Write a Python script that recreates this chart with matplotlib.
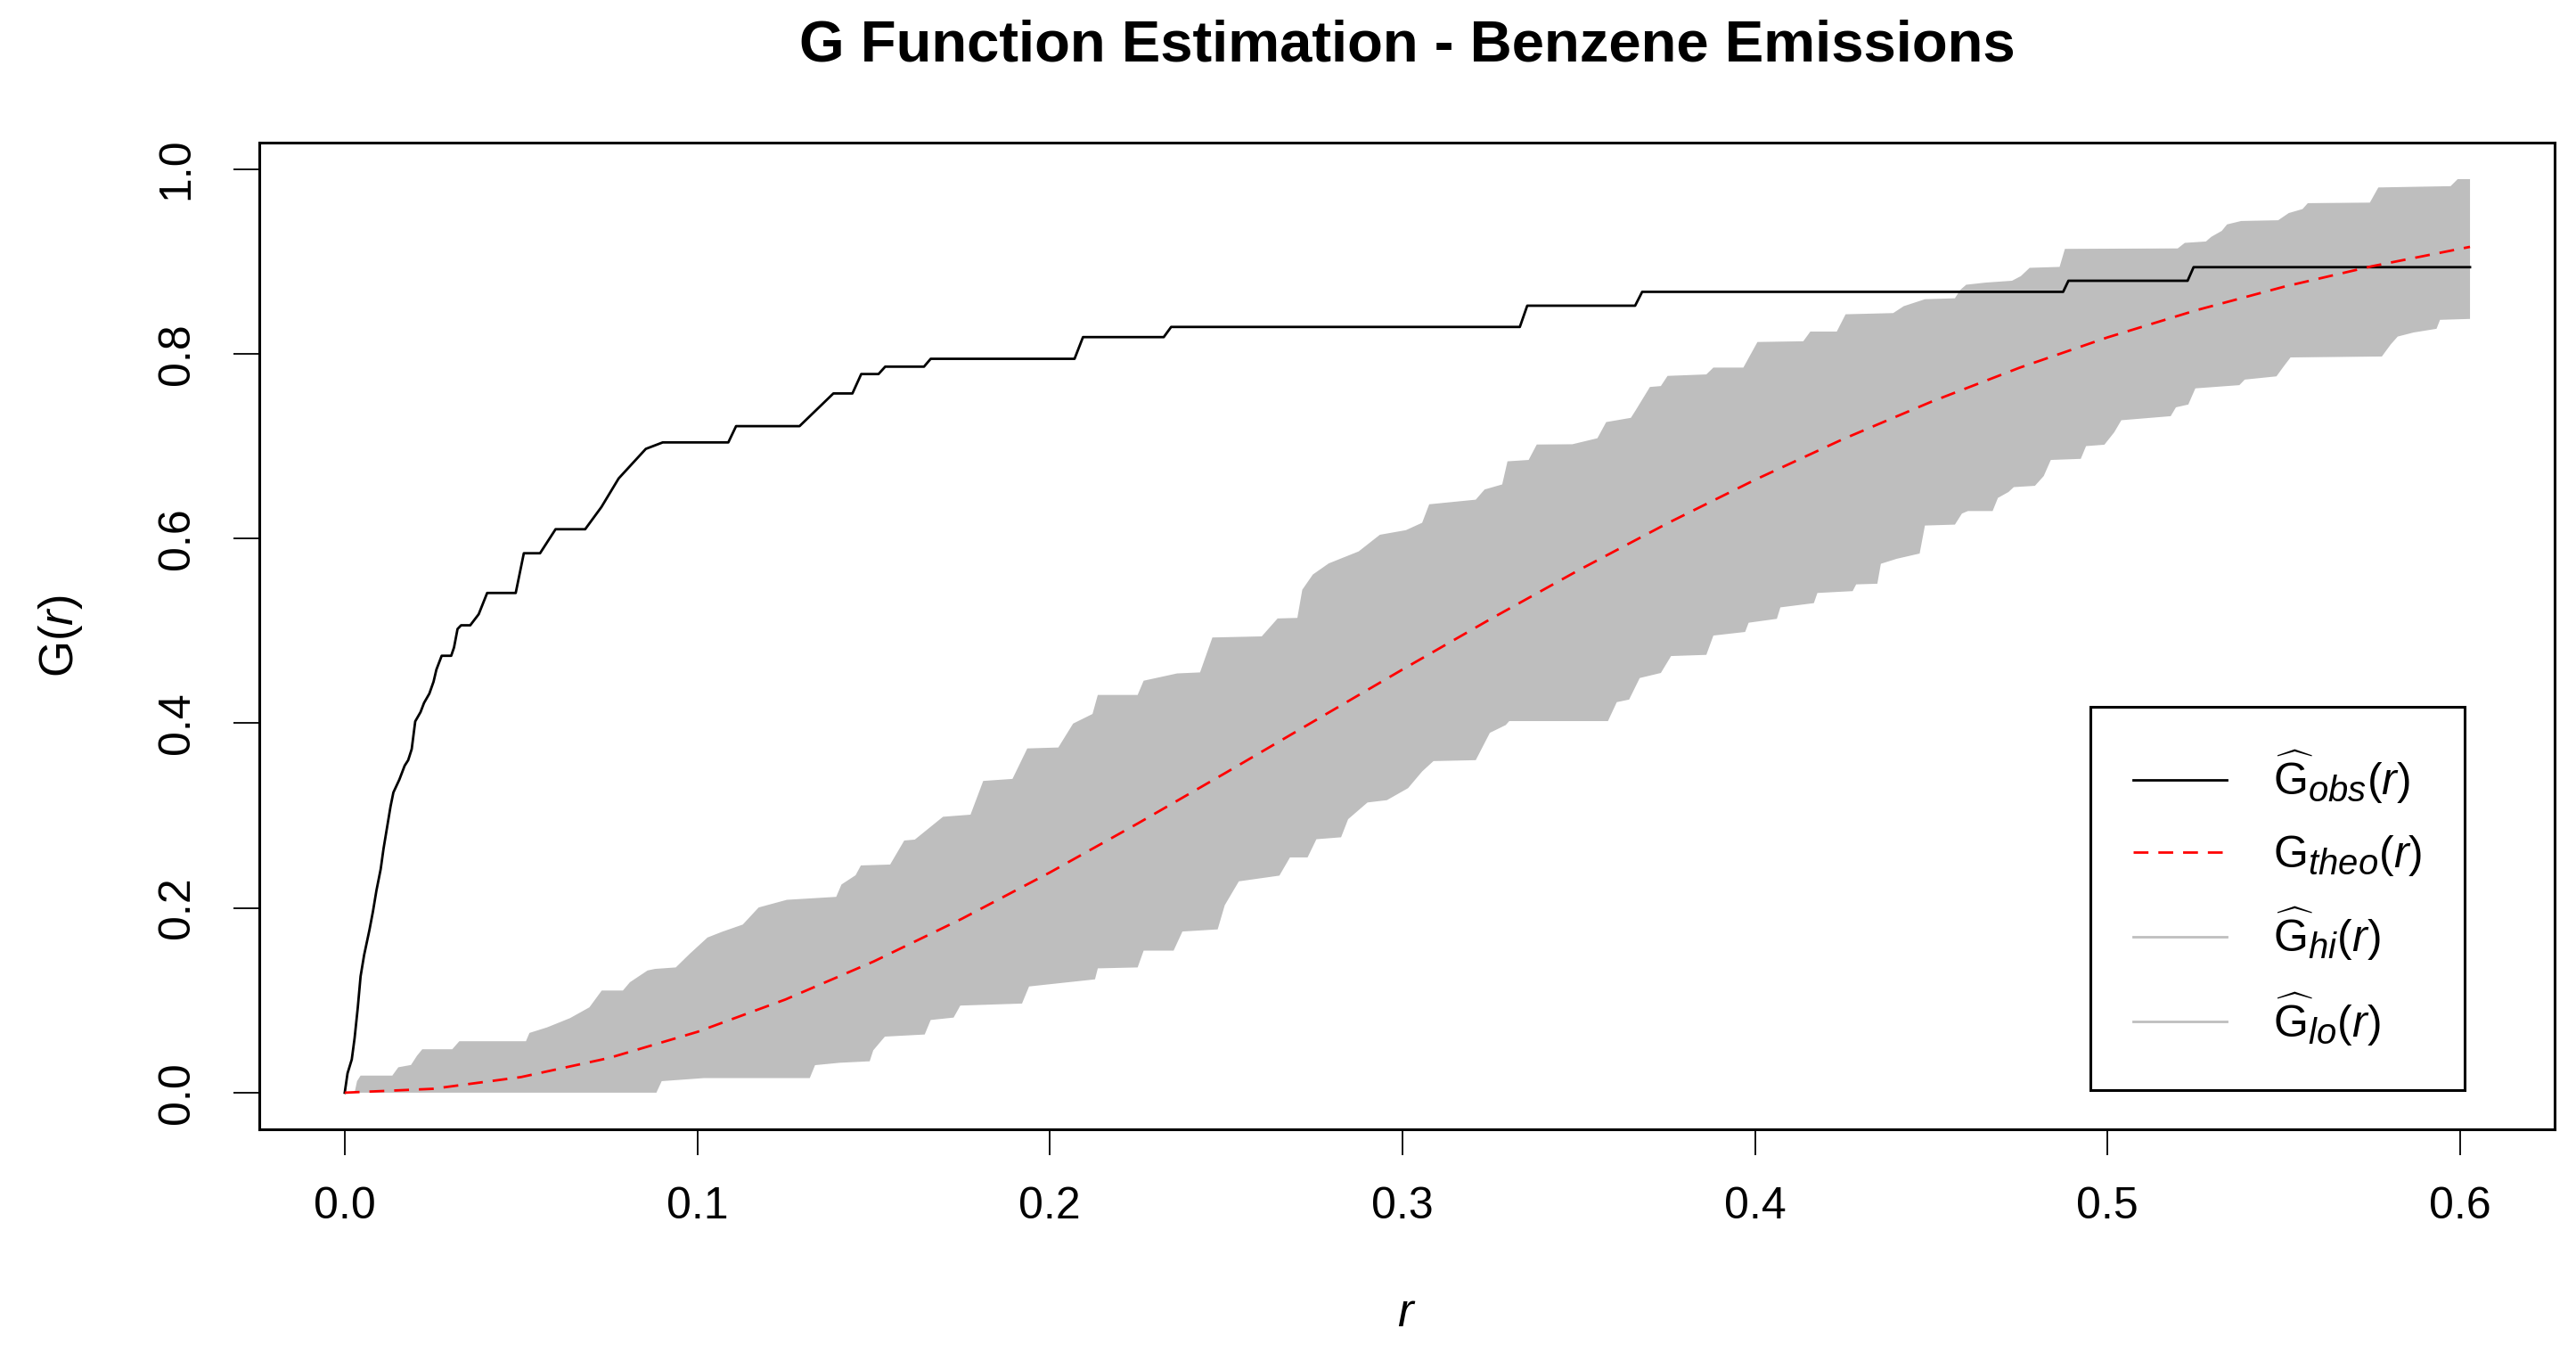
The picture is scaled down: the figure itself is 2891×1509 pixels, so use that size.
import matplotlib
matplotlib.use("Agg")
import matplotlib.pyplot as plt
import matplotlib._mathtext as mathtext_internals
from matplotlib.lines import Line2D

plt.rcParams['font.family'] = ['Liberation Sans', 'DejaVu Sans']
plt.rcParams['mathtext.fontset'] = 'custom'
plt.rcParams['mathtext.rm'] = 'Liberation Sans'
plt.rcParams['mathtext.it'] = 'Liberation Sans:italic'
# R plotmath subscripts are larger than matplotlib's default
mathtext_internals.SHRINK_FACTOR = 0.8

r_obs = [0, 0.0008, 0.002, 0.0028, 0.0037, 0.0045, 0.0055, 0.007, 0.008, 0.009,
         0.0102, 0.011, 0.012, 0.013, 0.0138, 0.0155, 0.017, 0.018, 0.019, 0.020,
         0.0215, 0.0225, 0.024, 0.0252, 0.026, 0.027, 0.0275, 0.0302, 0.031, 0.032,
         0.033, 0.0356, 0.038, 0.0404, 0.0485, 0.0508, 0.0554, 0.0598, 0.0682, 0.0728,
         0.0777, 0.0854, 0.0902, 0.1088, 0.111, 0.129, 0.1386, 0.144, 0.1465, 0.1514,
         0.1533, 0.1643, 0.1662, 0.207, 0.2094, 0.2323, 0.2344, 0.3333, 0.3354, 0.366,
         0.368, 0.4874, 0.4889, 0.5227, 0.5244, 0.6028]
g_obs = [0, 0.021, 0.036, 0.059, 0.092, 0.126, 0.149, 0.176, 0.196, 0.219,
         0.242, 0.264, 0.287, 0.310, 0.325, 0.339, 0.354, 0.360, 0.372, 0.402,
         0.412, 0.422, 0.432, 0.445, 0.458, 0.468, 0.473, 0.473, 0.482, 0.502,
         0.506, 0.506, 0.518, 0.541, 0.541, 0.584, 0.584, 0.610, 0.610, 0.634,
         0.665, 0.697, 0.704, 0.704, 0.7216, 0.7216, 0.757, 0.757, 0.778, 0.778,
         0.786, 0.786, 0.7945, 0.7945, 0.818, 0.818, 0.829, 0.829, 0.852, 0.852,
         0.867, 0.867, 0.879, 0.879, 0.8937, 0.8937]

# theoretical (CSR) curve
r_theo = [0, 0.025, 0.05, 0.075, 0.1, 0.125, 0.15, 0.175, 0.2, 0.225, 0.25, 0.275,
          0.3, 0.325, 0.35, 0.375, 0.4, 0.425, 0.45, 0.475, 0.5, 0.525, 0.55, 0.575, 0.6028]
g_theo = [0, 0.0042, 0.0169, 0.0376, 0.0658, 0.1009, 0.1420, 0.1882, 0.2384, 0.2916,
          0.3466, 0.4024, 0.4581, 0.5128, 0.5657, 0.6161, 0.6635, 0.7076, 0.7480, 0.7848,
          0.8177, 0.8469, 0.8725, 0.8947, 0.9157]

# upper envelope
r_hi = [0, 0.0028, 0.0035, 0.0045, 0.0135, 0.0152, 0.0188, 0.0205, 0.022, 0.0305,
        0.0325, 0.0514, 0.0524, 0.0574, 0.0639, 0.0694, 0.0729, 0.0789, 0.0809, 0.0859,
        0.088, 0.0939, 0.0979, 0.1029, 0.1069, 0.1129, 0.1174, 0.1254, 0.1394, 0.1409,
        0.1449, 0.1464, 0.1547, 0.1587, 0.1617, 0.1697, 0.1775, 0.1811, 0.1894, 0.1936,
        0.2024, 0.2066, 0.2121, 0.2136, 0.2249, 0.2266, 0.2361, 0.2426, 0.2461, 0.2601,
        0.2646, 0.2702, 0.2716, 0.2746, 0.2791, 0.2876, 0.2936, 0.301, 0.3056, 0.3076,
        0.3208, 0.3233, 0.3283, 0.3298, 0.3358, 0.3381, 0.3482, 0.3553, 0.3578, 0.3648,
        0.3662, 0.3702, 0.3733, 0.3752, 0.3862, 0.3882, 0.3967, 0.4007, 0.4137, 0.4157,
        0.4232, 0.4257, 0.4392, 0.4422, 0.4482, 0.4567, 0.4582, 0.4599, 0.4654, 0.4729,
        0.4754, 0.4779, 0.4864, 0.4879, 0.5199, 0.5219, 0.5279, 0.5294, 0.5324, 0.5339,
        0.5379, 0.5484, 0.5514, 0.5553, 0.5568, 0.5744, 0.5768, 0.5973, 0.5993, 0.6028]
g_hi = [0, 0, 0.0125, 0.0185, 0.0185, 0.0275, 0.030, 0.040, 0.047, 0.047,
        0.0557, 0.0557, 0.0647, 0.0707, 0.0807, 0.0924, 0.1106, 0.1106, 0.1196, 0.1323,
        0.134, 0.1356, 0.1505, 0.168, 0.174, 0.182, 0.2005, 0.2088, 0.212, 0.2254,
        0.2354, 0.246, 0.247, 0.273, 0.274, 0.2987, 0.301, 0.3375, 0.3397, 0.3727,
        0.3737, 0.3996, 0.41, 0.4306, 0.4306, 0.446, 0.4539, 0.455, 0.4928, 0.494,
        0.5134, 0.514, 0.5445, 0.561, 0.573, 0.586, 0.604, 0.609, 0.617, 0.637,
        0.642, 0.653, 0.6585, 0.6835, 0.685, 0.7017, 0.702, 0.7085, 0.726, 0.7306,
        0.739, 0.764, 0.765, 0.776, 0.7776, 0.785, 0.785, 0.8127, 0.8135, 0.824,
        0.824, 0.8427, 0.844, 0.8515, 0.859, 0.86, 0.869, 0.8747, 0.877, 0.879,
        0.884, 0.893, 0.894, 0.9135, 0.914, 0.92, 0.9215, 0.9265, 0.933, 0.940,
        0.9437, 0.9445, 0.9523, 0.9566, 0.963, 0.9636, 0.980, 0.9814, 0.989, 0.989]

# lower envelope
r_lo = [0, 0.0884, 0.0899, 0.1019, 0.1319, 0.1334, 0.1404, 0.1489, 0.1499, 0.1532,
        0.1645, 0.1662, 0.1727, 0.1746, 0.1921, 0.1941, 0.2128, 0.2136, 0.2249, 0.2266,
        0.2351, 0.2376, 0.2476, 0.2496, 0.2536, 0.2651, 0.2681, 0.2731, 0.2756, 0.2826,
        0.2846, 0.2901, 0.2956, 0.3016, 0.3056, 0.3088, 0.3208, 0.3248, 0.3293, 0.3303,
        0.3583, 0.3608, 0.3643, 0.3673, 0.3733, 0.3762, 0.3862, 0.3882, 0.3972, 0.3982,
        0.4062, 0.4072, 0.4167, 0.4177, 0.4277, 0.4287, 0.4347, 0.4357, 0.4402, 0.4467,
        0.4482, 0.4567, 0.4587, 0.4604, 0.4674, 0.4689, 0.4719, 0.4734, 0.4794, 0.4819,
        0.4839, 0.4924, 0.4939, 0.4991, 0.5019, 0.5039, 0.5179, 0.5194, 0.5229, 0.5249,
        0.5374, 0.5389, 0.5479, 0.5499, 0.5519, 0.5778, 0.5803, 0.5823, 0.5868, 0.5933,
        0.5943, 0.6028]
g_lo = [0, 0, 0.0125, 0.0158, 0.0158, 0.0298, 0.0324, 0.034, 0.0458, 0.0607,
        0.063, 0.0787, 0.0813, 0.0943, 0.0965, 0.115, 0.1227, 0.1346, 0.1356, 0.1538,
        0.1538, 0.1745, 0.1768, 0.2029, 0.2288, 0.235, 0.2547, 0.2547, 0.2744, 0.2765,
        0.2961, 0.3142, 0.3167, 0.3297, 0.3478, 0.359, 0.36, 0.3896, 0.398, 0.4023,
        0.4023, 0.4228, 0.4256, 0.4489, 0.4544, 0.4727, 0.474, 0.4949, 0.4988, 0.5088,
        0.513, 0.5254, 0.53, 0.541, 0.543, 0.5503, 0.551, 0.5726, 0.578, 0.5837,
        0.614, 0.615, 0.627, 0.6297, 0.6297, 0.6439, 0.6503, 0.6556, 0.657, 0.6676,
        0.685, 0.6862, 0.700, 0.7015, 0.715, 0.728, 0.7324, 0.742, 0.745, 0.7625,
        0.766, 0.772, 0.7755, 0.786, 0.796, 0.797, 0.81, 0.8186, 0.823, 0.827,
        0.8367, 0.8377]

x_ticks = [0.0, 0.1, 0.2, 0.3, 0.4, 0.5, 0.6]
y_ticks = [0.0, 0.2, 0.4, 0.6, 0.8, 1.0]

shade = '#BEBEBE'

fig = plt.figure(figsize=(28.91, 15.09), dpi=100)
ax = fig.add_axes([0.1007, 0.1604, 0.891, 0.7336])

# envelope band: upper edge forward, lower edge backward
ax.fill(r_hi + r_lo[::-1], g_hi + g_lo[::-1], color=shade, lw=0, zorder=1)
ax.plot(r_obs, g_obs, color='black', lw=2.0, zorder=3)
ax.plot(r_theo, g_theo, color='red', lw=2.0, linestyle=(0, (6, 4)), zorder=4)

ax.set_xlim(-0.0242, 0.6268)
ax.set_ylim(-0.0396, 1.0286)
ax.set_xticks(x_ticks)
ax.set_xticklabels([f'{v:.1f}' for v in x_ticks])
ax.set_yticks(y_ticks)
ax.set_yticklabels([f'{v:.1f}' for v in y_ticks])
ax.tick_params(axis='both', direction='out', length=21, width=1.3,
               labelsize=36, colors='black')
ax.tick_params(axis='x', pad=25)
ax.tick_params(axis='y', pad=29, labelrotation=90)
for lab in ax.get_yticklabels():
    lab.set_va('center')
for s in ax.spines.values():
    s.set_linewidth(2.2)

ax.set_title('G Function Estimation - Benzene Emissions', fontsize=47,
             fontweight='bold', pad=66)
ax.set_xlabel(r'$\mathit{r}$', fontsize=38, labelpad=52)
ax.set_ylabel(r'$\mathrm{G}(\mathit{r})$', fontsize=38, labelpad=58)

handles = [Line2D([], [], color='black', lw=2.0),
           Line2D([], [], color='red', lw=2.0, linestyle=(0, (6, 4))),
           Line2D([], [], color=shade, lw=2.0),
           Line2D([], [], color=shade, lw=2.0)]
labels = [r'$\widehat{\mathrm{G}}_{\mathit{obs}}(\mathit{r})$',
          r'$\mathrm{G}_{\mathit{theo}}(\mathit{r})$',
          r'$\widehat{\mathrm{G}}_{\mathit{hi}}(\mathit{r})$',
          r'$\widehat{\mathrm{G}}_{\mathit{lo}}(\mathit{r})$']
leg = ax.legend(handles, labels, loc='lower right', bbox_to_anchor=(0.9608, 0.0397),
                fontsize=36, frameon=True, fancybox=False, framealpha=1,
                edgecolor='black', borderpad=0.95, labelspacing=0.62,
                handlelength=2.1, handletextpad=1.05, borderaxespad=0)
leg.get_frame().set_linewidth(2.2)

fig.savefig('out.png', dpi=100)
